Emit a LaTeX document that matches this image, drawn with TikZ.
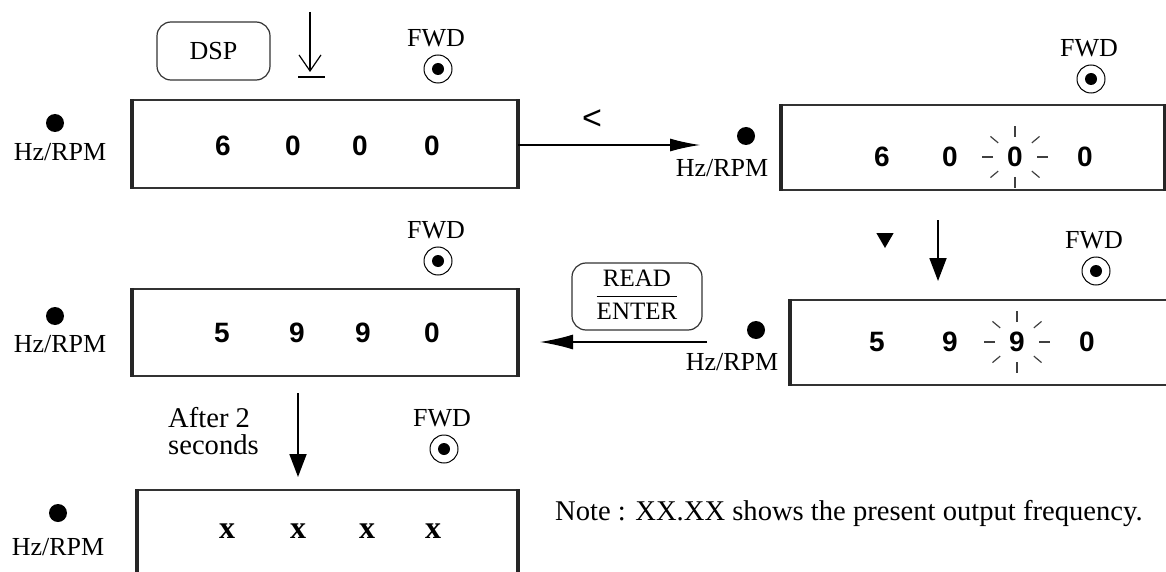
\documentclass[tikz,border=0pt]{standalone}
\usepackage{fontspec}
\setmainfont{Liberation Serif}
\newfontfamily\digitfont{Liberation Sans}
\usepackage{tikz}
\usetikzlibrary{arrows.meta,positioning,calc,shapes.geometric}

\begin{document}
\begin{tikzpicture}[x=1pt, y=-1pt, every node/.style={inner sep=0pt},
    display/.style={draw=black!80, line width=1.5pt, minimum width=384pt, minimum height=88pt},
    edge/.style={line width=4pt, black!85},
    digit/.style={font=\digitfont\bfseries\fontsize{28}{30}\selectfont},
    xmark/.style={font=\bfseries\fontsize{32}{32}\selectfont},
    lbl/.style={font=\fontsize{26}{28}\selectfont},
    lbltwo/.style={font=\fontsize{28.6}{27}\selectfont},
    keybtn/.style={draw=black!80, rounded corners=14pt, line width=1.2pt},
    led/.style={circle, fill, minimum size=18pt},
    ring/.style={circle, draw, line width=1pt, minimum size=28pt},
    flash/.style={line width=1.2pt, black!75},
    flow/.style={-{Latex[length=30pt,width=13pt]}, line width=1.2pt},
    down/.style={-{Triangle[length=23pt,width=17pt]}, line width=1.8pt}]
    \useasboundingbox (0,0) rectangle (1166,572);
    \clip (0,0) rectangle (1166,572);

    % display windows
    \node[display] (d1) at (325,144) {};
    \node[display, minimum width=382pt, minimum height=85pt] (d2) at (973,147.5) {};
    \node[display, minimum height=87pt] (d3) at (325,332.5) {};
    \node[display, minimum width=409pt, minimum height=85pt] (d4) at (995.5,342.5) {};
    \node[display, minimum width=379pt, minimum height=130pt] (d5) at (327.5,555) {};
    \foreach \b in {d1,d2,d3,d4,d5}
        \draw[edge] (\b.north west) -- (\b.south west) (\b.north east) -- (\b.south east);

    % digits
    \foreach \t/\x [count=\i] in {6/223,0/293,0/360,0/432} \node[digit] (a\i) at (\x,146) {\t};
    \foreach \t/\x [count=\i] in {6/882,0/950,0/1015,0/1085} \node[digit] (b\i) at (\x,157) {\t};
    \foreach \t/\x [count=\i] in {5/222,9/297,9/363,0/432} \node[digit] (c\i) at (\x,333) {\t};
    \foreach \t/\x [count=\i] in {5/877,9/950,9/1017,0/1087} \node[digit] (e\i) at (\x,342) {\t};
    \foreach \x [count=\i] in {227,298,367,433} \node[xmark] (g\i) at (\x,531) {x};

    % blinking digit
    \foreach \a/\r/\s in {0/22/33,180/22/33,90/20/31,270/20/31,40/22/32,140/22/32,220/22/32,320/22/32} {
        \draw[flash] ($(b3)+(\a:\r)$) -- ($(b3)+(\a:\s)$);
        \draw[flash] ($(e3)+(\a:\r)$) -- ($(e3)+(\a:\s)$);
    }

    % Hz/RPM lamps
    \node[led] (l1) at (55,123) {};
    \node[lbl] (h1) at (60,152) {Hz/RPM};
    \node[led] (l2) at (746,136) {};
    \node[lbl] (h2) at (722,168) {Hz/RPM};
    \node[led] (l3) at (55,316) {};
    \node[lbl] (h3) at (60,344) {Hz/RPM};
    \node[led] (l4) at (756,330) {};
    \node[lbl] (h4) at (732,362) {Hz/RPM};
    \node[led] (l5) at (58,513) {};
    \node[lbl] (h5) at (58,547) {Hz/RPM};

    % FWD lamps
    \foreach \n/\x/\y in {1/436/38,2/1089/48,3/436/230,4/1094/240,5/442/418} {
        \node[lbl] (fw\n) at (\x,\y) {FWD};
        \node[ring] (fr\n) at ($(fw\n.center)+(2,31)$) {};
        \node[led, minimum size=12pt] (fd\n) at (fr\n) {};
    }

    % DSP key
    \node[keybtn, minimum width=113pt, minimum height=58pt, font=\fontsize{26}{28}\selectfont] (dsp) at (213.5,51) {DSP};
    \coordinate (p1) at (310,12);
    \coordinate (p2) at (310,72);
    \draw[-{Straight Barb[length=16pt,width=22pt]}, line width=1.2pt] (p1) -- (p2);
    \draw[line width=1.2pt] ($(p2)+(-12,5)$) -- ($(p2)+(15,5)$);

    % shift left: top row
    \coordinate (t1) at (700,145);
    \draw[flow] (d1.east |- t1) -- (t1);
    \node[font=\digitfont\fontsize{34}{34}\selectfont] (sh) at (592,120) {<};

    % down key
    \node[fill, regular polygon, regular polygon sides=3, shape border rotate=180, minimum size=20pt] (dn) at (885,238) {};
    \coordinate (u1) at (938,220);
    \coordinate (u2) at (938,281);
    \draw[down] (u1) -- (u2);

    % READ/ENTER key
    \node[keybtn, minimum width=130pt, minimum height=67pt, font=\fontsize{25}{32}\selectfont] (rd) at (637,296.5)
        {\setlength{\arrayrulewidth}{1.5pt}\begin{tabular}{@{}c@{}}READ\\\hline ENTER\end{tabular}};
    \coordinate (r1) at (707,342);
    \coordinate (r2) at (540,342);
    \draw[-{Latex[length=33pt,width=15pt]}, line width=1.2pt] (r1) -- (r2);

    % after 2 seconds
    \node[lbltwo, align=left, anchor=west] (aft) at (168,431) {After 2\\seconds};
    \coordinate (s1) at (298,393);
    \coordinate (s2) at (298,477);
    \draw[down] (s1) -- (s2);

    \node[lbltwo, anchor=west] (note) at (555,514) {Note : XX.XX shows the present output frequency.};
\end{tikzpicture}
\end{document}
